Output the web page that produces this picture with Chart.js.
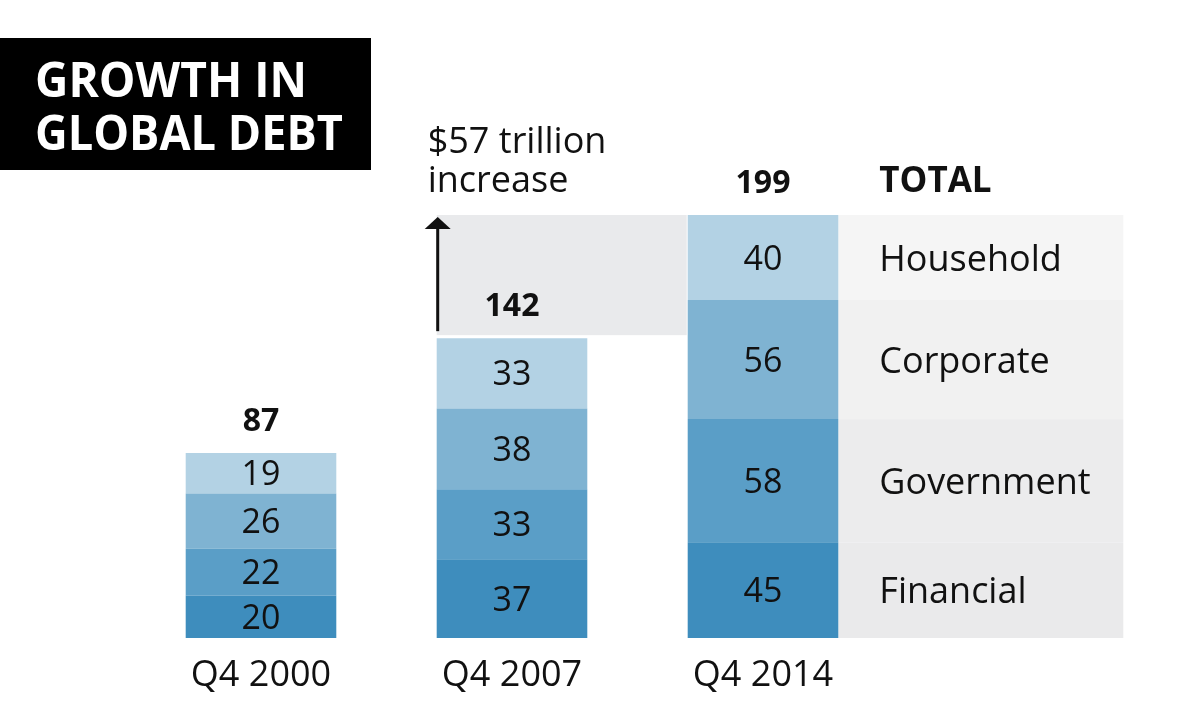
<!DOCTYPE html>
<html>
<head>
<meta charset="utf-8">
<script src="https://cdn.jsdelivr.net/npm/chart.js@4.4.1/dist/chart.umd.min.js"></script>
<style>
html, body { margin: 0; padding: 0; background: #fff; }
</style>
</head>
<body>
<canvas id="debtChart" width="1200" height="721"></canvas>
<script>
// data (trillions of dollars)
let quarters = ['Q4 2000', 'Q4 2007', 'Q4 2014'];
let financial = [20, 37, 45];
let government = [22, 33, 58];
let corporate = [26, 38, 56];
let household = [19, 33, 40];
let totals = [87, 142, 199];
let sectorNames = ['Financial', 'Government', 'Corporate', 'Household'];
let titleLines = ['GROWTH IN', 'GLOBAL DEBT'];

let sectorColors = ['#3e8dbd', '#5a9ec7', '#7fb3d2', '#b3d2e4'];
let bandColors = ['#eaeaeb', '#ececed', '#f1f1f1', '#f5f5f5'];
let FONT = '"Open Sans", "Noto Sans", sans-serif';

// draws text squeezed to a given width
function fitText(ctx, text, x, y, width) {
    let w = ctx.measureText(text).width;
    ctx.save();
    ctx.translate(x, y);
    ctx.scale(width / w, 1);
    ctx.fillText(text, 0, 0);
    ctx.restore();
}

const decor = {
    id: 'decor',
    beforeDatasetsDraw(chart) {
        let ctx = chart.ctx;
        let y = chart.scales.y;
        let bars = chart.getDatasetMeta(0).data;
        let w = bars[2].width;
        // rows next to the latest bar
        let right = bars[2].x + w / 2;
        ctx.save();
        for (let i = 0; i < 4; i++) {
            let el = chart.getDatasetMeta(i).data[2];
            ctx.fillStyle = bandColors[i];
            ctx.fillRect(right, el.y, 285, el.base - el.y);
        }
        // increase 2007 -> 2014
        let l = bars[1].x - w / 2;
        let top = y.getPixelForValue(totals[2]);
        let bot = y.getPixelForValue(totals[1]);
        ctx.fillStyle = '#e9eaec';
        ctx.fillRect(l, top, bars[2].x - w / 2 - 1 - l, bot - top - 1);
        // arrow
        ctx.strokeStyle = '#111';
        ctx.fillStyle = '#111';
        ctx.lineWidth = 3;
        ctx.beginPath();
        ctx.moveTo(l + 1, bot - 5);
        ctx.lineTo(l + 1, top + 10);
        ctx.stroke();
        ctx.beginPath();
        ctx.moveTo(l + 1, top + 2);
        ctx.lineTo(l - 12, top + 14);
        ctx.lineTo(l + 14, top + 14);
        ctx.closePath();
        ctx.fill();
        ctx.restore();
    },
    afterDatasetsDraw(chart) {
        let ctx = chart.ctx;
        ctx.save();
        ctx.fillStyle = '#111';
        ctx.textAlign = 'center';
        ctx.textBaseline = 'alphabetic';
        // values inside segments
        ctx.font = '34px ' + FONT;
        chart.data.datasets.forEach((ds, i) => {
            chart.getDatasetMeta(i).data.forEach((el, j) => {
                let c = (el.y + el.base) / 2;
                ctx.fillText(ds.data[j], el.x, c + 12);
            });
        });
        // totals
        ctx.font = 'bold 32px ' + FONT;
        let bars = chart.getDatasetMeta(3).data;
        bars.forEach((el, j) => {
            ctx.fillText(totals[j], el.x, el.y - 22);
        });
        // sector names
        let right = bars[2].x + bars[2].width / 2;
        ctx.textAlign = 'left';
        ctx.font = '36px ' + FONT;
        for (let i = 0; i < 4; i++) {
            let el = chart.getDatasetMeta(i).data[2];
            ctx.fillText(sectorNames[i], right + 41, (el.y + el.base) / 2 + 13);
        }
        ctx.font = 'bold 35px ' + FONT;
        ctx.fillText('TOTAL', right + 41, bars[2].y - 23);
        // increase note
        ctx.font = '36px ' + FONT;
        let l = chart.getDatasetMeta(0).data[1].x - bars[1].width / 2;
        ctx.fillText('$' + (totals[2] - totals[1]) + ' trillion', l - 9, 153);
        ctx.fillText('increase', l - 9, 192);
        // title
        ctx.fillStyle = '#000';
        ctx.fillRect(0, 38, 371, 132);
        ctx.fillStyle = '#fff';
        ctx.font = 'bold 48px ' + FONT;
        fitText(ctx, titleLines[0], 35, 97, 272);
        fitText(ctx, titleLines[1], 35, 150, 308);
        ctx.restore();
    }
};

let chart = document.getElementById('debtChart');
let debtChart = new Chart(chart, {
    type: 'bar',
    data: {
        labels: quarters,
        datasets: [
            { label: sectorNames[0], data: financial, backgroundColor: sectorColors[0] },
            { label: sectorNames[1], data: government, backgroundColor: sectorColors[1] },
            { label: sectorNames[2], data: corporate, backgroundColor: sectorColors[2] },
            { label: sectorNames[3], data: household, backgroundColor: sectorColors[3] }
        ]
    },
    options: {
        responsive: false,
        animation: false,
        layout: { padding: { top: 215, left: 135.5, right: 311.5, bottom: 0 } },
        datasets: { bar: { categoryPercentage: 1, barPercentage: 0.6, borderWidth: 0 } },
        plugins: { legend: { display: false }, tooltip: { enabled: false } },
        scales: {
            x: {
                stacked: true,
                grid: { display: false, drawTicks: false },
                border: { display: false },
                ticks: { color: '#111', padding: 16, font: { family: FONT, size: 36 } },
                afterFit: s => { s.height = 83; }
            },
            y: { stacked: true, display: false, min: 0, max: totals[2] }
        }
    },
    plugins: [decor]
});
</script>
</body>
</html>
